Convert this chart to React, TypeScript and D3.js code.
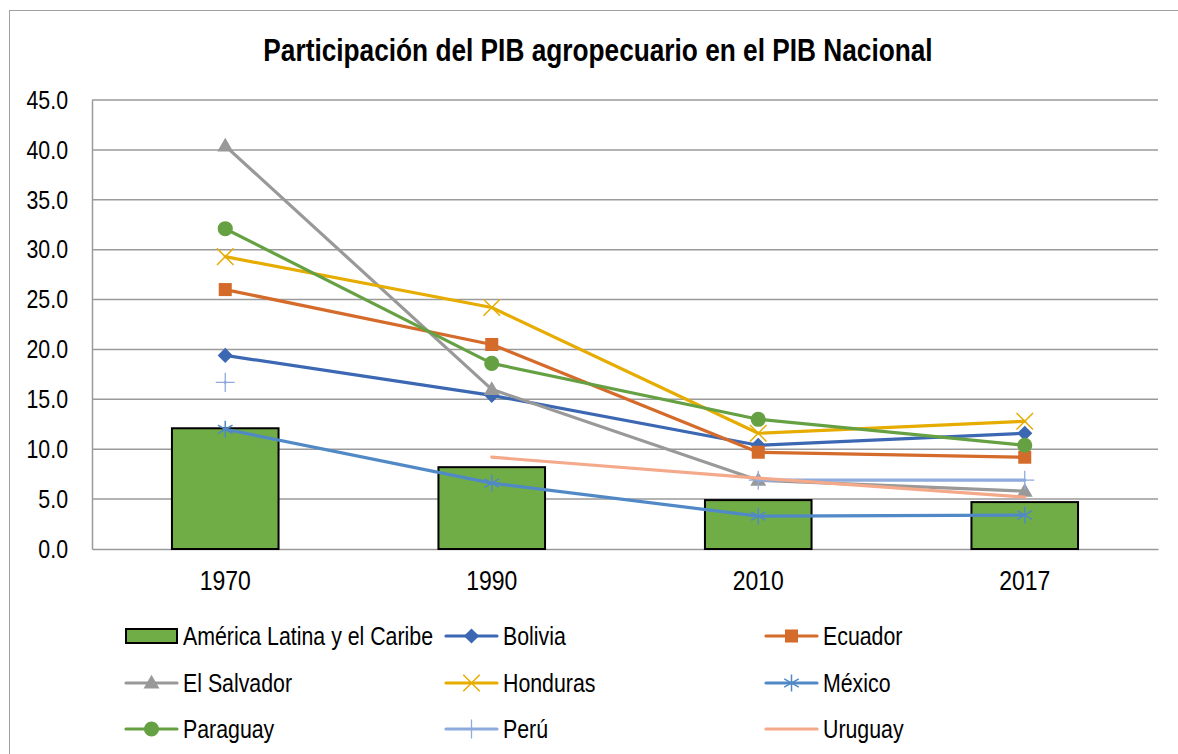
import { useEffect, useRef } from 'react'
import * as d3 from 'd3'

const years = ['1970', '1990', '2010', '2017']
const yTicks = [0, 5, 10, 15, 20, 25, 30, 35, 40, 45]

const alcValues = [12.1, 8.2, 4.9, 4.7]

const bolivia = [19.4, 15.4, 10.4, 11.6]
const ecuador = [26.0, 20.5, 9.7, 9.2]
const elSalvador = [40.4, 16.0, 6.9, 5.8]
const honduras = [29.3, 24.2, 11.6, 12.8]
const mexico = [12.0, 6.6, 3.3, 3.4]
const paraguay = [32.1, 18.6, 13.0, 10.4]
const peru = [16.7, null, 6.9, 6.9]
const uruguay = [null, 9.2, 7.1, 5.2]

type Series = { name: string; values: (number | null)[]; color: string; marker: string }

const series: Series[] = [
  { name: 'Bolivia', values: bolivia, color: '#3c67b3', marker: 'diamond' },
  { name: 'Ecuador', values: ecuador, color: '#d56b2b', marker: 'square' },
  { name: 'El Salvador', values: elSalvador, color: '#999999', marker: 'triangle' },
  { name: 'Honduras', values: honduras, color: '#e6ac00', marker: 'x' },
  { name: 'México', values: mexico, color: '#5089c6', marker: 'asterisk' },
  { name: 'Paraguay', values: paraguay, color: '#65a043', marker: 'circle' },
  { name: 'Perú', values: peru, color: '#8faadc', marker: 'plus' },
  { name: 'Uruguay', values: uruguay, color: '#f4a98a', marker: 'none' },
]

// no Arial Narrow here, so regular Liberation Sans gets squeezed afterwards
const font = '"Liberation Sans", Arial, sans-serif'
const squeeze = 0.82

function drawMarker(g: any, kind: string, color: string) {
  if (kind === 'none') return
  if (kind === 'circle') {
    g.append('path').attr('d', d3.symbol(d3.symbolCircle, 180)()).attr('fill', color)
  } else if (kind === 'square') {
    g.append('path').attr('d', d3.symbol(d3.symbolSquare, 170)()).attr('fill', color)
  } else if (kind === 'diamond') {
    g.append('path').attr('d', d3.symbol(d3.symbolSquare, 115)()).attr('fill', color)
      .attr('transform', 'rotate(45)')
  } else if (kind === 'triangle') {
    g.append('path').attr('d', d3.symbol(d3.symbolTriangle, 110)()).attr('fill', color)
      .attr('transform', 'translate(0,1)')
  } else if (kind === 'x') {
    g.append('path').attr('d', d3.symbol(d3.symbolX, 180)()).attr('fill', 'none')
      .attr('stroke', color).attr('stroke-width', 1.5)
  } else if (kind === 'plus') {
    g.append('path').attr('d', d3.symbol(d3.symbolPlus, 120)()).attr('fill', 'none')
      .attr('stroke', color).attr('stroke-width', 1.3)
  } else if (kind === 'asterisk') {
    g.append('path').attr('d', d3.symbol(d3.symbolAsterisk, 200)()).attr('fill', 'none')
      .attr('stroke', color).attr('stroke-width', 1.5)
  }
}

export default function App() {
  const svgRef = useRef<SVGSVGElement | null>(null)

  useEffect(() => {
    if (!svgRef.current) return
    const W = 1178
    const H = 754
    const margin = { top: 100, right: 20, bottom: 205, left: 92 }
    const width = W - margin.left - margin.right
    const height = H - margin.top - margin.bottom

    const root = d3.select(svgRef.current)
    root.selectAll('*').remove()

    root.append('rect')
      .attr('x', 9.5).attr('y', 10.5)
      .attr('width', W + 20).attr('height', H + 20)
      .attr('fill', '#fff').attr('stroke', '#a0a0a0').attr('stroke-width', 1)

    root.append('text')
      .attr('x', 598).attr('y', 61)
      .attr('text-anchor', 'middle')
      .attr('font-family', font).attr('font-size', '32px').attr('font-weight', 'bold')
      .attr('fill', '#000')
      .text('Participación del PIB agropecuario en el PIB Nacional')

    const svg = root.append('g').attr('transform', `translate(${margin.left},${margin.top})`)

    const x = d3.scaleBand().domain(years).range([0, width])
    const y = d3.scaleLinear().domain([0, 45]).range([height, 0])

    // gridlines
    svg.append('g')
      .selectAll('line')
      .data(yTicks.slice(1))
      .join('line')
      .attr('x1', 0).attr('x2', width)
      .attr('y1', d => y(d)).attr('y2', d => y(d))
      .attr('stroke', '#9a9a9a').attr('stroke-width', 1.5)

    // axes
    svg.append('g')
      .attr('transform', `translate(0,${height})`)
      .call(d3.axisBottom(x).tickSize(0).tickPadding(21))
      .call(g => g.select('.domain').attr('stroke', '#9a9a9a').attr('stroke-width', 1.5))
      .call(g => g.selectAll('text').attr('fill', '#000').attr('font-size', '28px').attr('font-family', font))

    svg.append('g')
      .call(d3.axisLeft(y).tickValues(yTicks).tickSize(0).tickPadding(24).tickFormat(d3.format('.1f')))
      .call(g => g.select('.domain').attr('stroke', '#9a9a9a').attr('stroke-width', 1.5))
      .call(g => g.selectAll('text').attr('fill', '#000').attr('font-size', '26px').attr('font-family', font))

    // bars
    const bw = x.bandwidth() * 0.4
    svg.append('g')
      .selectAll('rect')
      .data(alcValues)
      .join('rect')
      .attr('x', (d, i) => (x(years[i]) as number) + x.bandwidth() / 2 - bw / 2)
      .attr('y', d => y(d))
      .attr('width', bw)
      .attr('height', d => height - y(d))
      .attr('fill', '#70ad47')
      .attr('stroke', '#000').attr('stroke-width', 2)

    const cx = (i: number) => (x(years[i]) as number) + x.bandwidth() / 2

    // lines
    series.forEach(s => {
      const pts = s.values.map((v, i) => ({ i, v }))
      const line = d3.line<{ i: number; v: number | null }>()
        .defined(d => d.v !== null)
        .x(d => cx(d.i))
        .y(d => y(d.v as number))
      const g = svg.append('g')
      g.append('path')
        .datum(pts)
        .attr('fill', 'none')
        .attr('stroke', s.color)
        .attr('stroke-width', 3.2)
        .attr('stroke-linejoin', 'round')
        .attr('stroke-linecap', 'round')
        .attr('d', line)
      pts.filter(d => d.v !== null).forEach(d => {
        const m = g.append('g').attr('transform', `translate(${cx(d.i)},${y(d.v as number)})`)
        drawMarker(m, s.marker, s.color)
      })
    })

    // legend
    const legend = root.append('g')
    const colX = [125, 445, 765]
    const rowY = [636, 683, 729]
    const items = [
      { name: 'América Latina y el Caribe', kind: 'bar', color: '#70ad47', marker: 'none' },
      ...series.map(s => ({ name: s.name, kind: 'line', color: s.color, marker: s.marker })),
    ]
    items.forEach((it, k) => {
      const lx = colX[k % 3]
      const ly = rowY[Math.floor(k / 3)]
      const g = legend.append('g').attr('transform', `translate(${lx},${ly})`)
      if (it.kind === 'bar') {
        g.append('rect').attr('x', 1).attr('y', -7).attr('width', 51).attr('height', 14)
          .attr('fill', it.color).attr('stroke', '#000').attr('stroke-width', 2)
      } else {
        g.append('line').attr('x1', 1).attr('x2', 52).attr('y1', 0).attr('y2', 0)
          .attr('stroke', it.color).attr('stroke-width', 3.2).attr('stroke-linecap', 'round')
        const m = g.append('g').attr('transform', 'translate(26.5,0)')
        drawMarker(m, it.marker, it.color)
      }
      g.append('text')
        .attr('x', 58).attr('y', 0).attr('dy', '0.35em')
        .attr('font-family', font).attr('font-size', '26px').attr('fill', '#000')
        .text(it.name)
    })

    // condense every label to mimic Arial Narrow
    root.selectAll<SVGTextElement, unknown>('text').each(function () {
      const w = this.getComputedTextLength()
      if (w > 0) {
        d3.select(this)
          .attr('textLength', w * squeeze)
          .attr('lengthAdjust', 'spacingAndGlyphs')
      }
    })
  }, [])

  return (
    <svg
      ref={svgRef}
      width={1178}
      height={754}
      style={{ position: 'absolute', left: 0, top: 0, display: 'block', background: '#fff' }}
    />
  )
}
